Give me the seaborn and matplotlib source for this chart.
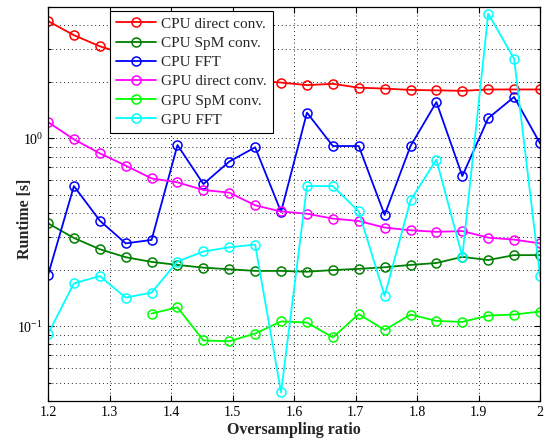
import numpy as np
import matplotlib
matplotlib.use("Agg")
import matplotlib.pyplot as plt
import seaborn as sns
from matplotlib.ticker import LogLocator, FixedLocator, FormatStrFormatter

# ---------------- data ----------------
ratio = np.linspace(1.2, 2.0, 20)

cpu_direct = [4.21, 3.54, 3.09, 2.80, 2.55, 2.35, 2.20, 2.10, 2.03, 1.98,
              1.92, 1.95, 1.86, 1.84, 1.81, 1.80, 1.79, 1.82, 1.82, 1.82]
cpu_spm = [0.353, 0.295, 0.257, 0.233, 0.220, 0.212, 0.205, 0.201, 0.197, 0.197,
           0.195, 0.199, 0.202, 0.206, 0.212, 0.217, 0.234, 0.225, 0.239, 0.239]
cpu_fft = [0.187, 0.557, 0.365, 0.276, 0.288, 0.921, 0.571, 0.752, 0.896, 0.406,
           1.37, 0.910, 0.910, 0.391, 0.910, 1.56, 0.630, 1.28, 1.66, 0.941]
gpu_direct = [1.22, 0.988, 0.832, 0.716, 0.612, 0.583, 0.531, 0.514, 0.440, 0.408,
              0.397, 0.374, 0.363, 0.335, 0.324, 0.318, 0.321, 0.296, 0.289, 0.276]
# GPU SpM conv. starts at the 5th ratio
gpu_spm = [0.1168, 0.126, 0.0840, 0.0832, 0.0914, 0.106, 0.1047, 0.0871,
           0.116, 0.0955, 0.1154, 0.1067, 0.1054, 0.114, 0.1154, 0.1197]
gpu_fft = [0.091, 0.169, 0.185, 0.142, 0.151, 0.221, 0.250, 0.263, 0.272, 0.0444,
           0.557, 0.557, 0.408, 0.145, 0.468, 0.770, 0.235, 4.61, 2.65, 0.185]

labels = ["CPU direct conv.", "CPU SpM conv.", "CPU FFT",
          "GPU direct conv.", "GPU SpM conv.", "GPU FFT"]
colors = ["#ff0000", "#008000", "#0000ff", "#ff00ff", "#00ff00", "#00ffff"]

series = [
    (ratio, cpu_direct),
    (ratio, cpu_spm),
    (ratio, cpu_fft),
    (ratio, gpu_direct),
    (ratio[4:], gpu_spm),
    (ratio, gpu_fft),
]

# ---------------- style ----------------
sns.set_style("ticks")
plt.rcParams['font.family'] = ['Liberation Serif', 'DejaVu Serif']
plt.rcParams['mathtext.fontset'] = 'custom'
plt.rcParams['mathtext.rm'] = 'Liberation Serif'
plt.rcParams['font.size'] = 10

fig = plt.figure(figsize=(5.53, 4.42), dpi=100)
ax = fig.add_axes([48 / 553, 1 - 401 / 442, 492 / 553, 394 / 442])

for (xs, ys), lab, c in zip(series, labels, colors):
    sns.lineplot(x=xs, y=ys, ax=ax, color=c, label=lab, linewidth=1.3,
                 marker='o', markersize=6.5, markerfacecolor='none',
                 markeredgecolor=c, markeredgewidth=1.1)

ax.set_yscale('log')
ax.set_xlim(1.2, 2.0)
ax.set_ylim(0.04, 5)

ax.xaxis.set_major_locator(FixedLocator(np.arange(1.2, 2.01, 0.1)))
ax.xaxis.set_major_formatter(FormatStrFormatter('%g'))
ax.yaxis.set_major_locator(LogLocator(base=10, numticks=10))
ax.yaxis.set_minor_locator(LogLocator(base=10, subs=np.arange(2, 10), numticks=20))

grid_kw = dict(color='#222222', linestyle=(0, (1, 3)), linewidth=0.7)
ax.grid(True, which='major', axis='both', **grid_kw)
ax.grid(True, which='minor', axis='y', **grid_kw)

ax.tick_params(which='both', direction='in', top=True, right=True, labelsize=10,
               colors='black', width=0.8)
ax.tick_params(which='major', length=4)
ax.tick_params(which='minor', length=2.5)
for s in ax.spines.values():
    s.set_linewidth(0.9)
    s.set_color('black')

ax.set_xlabel("Oversampling ratio", fontsize=11.5, fontweight='bold', labelpad=2)
ax.set_ylabel("Runtime [s]", fontsize=11.5, fontweight='bold')
ax.yaxis.set_label_coords(-0.031, 0.463)

leg = ax.legend(loc='upper left', bbox_to_anchor=(0.126, 0.99), borderaxespad=0,
                fontsize=11, frameon=True, fancybox=False, framealpha=1,
                edgecolor='black', handlelength=2.6, labelspacing=0.36,
                borderpad=0.4, handletextpad=0.35)
leg.get_frame().set_linewidth(0.8)

fig.savefig("out.png", dpi=100)
